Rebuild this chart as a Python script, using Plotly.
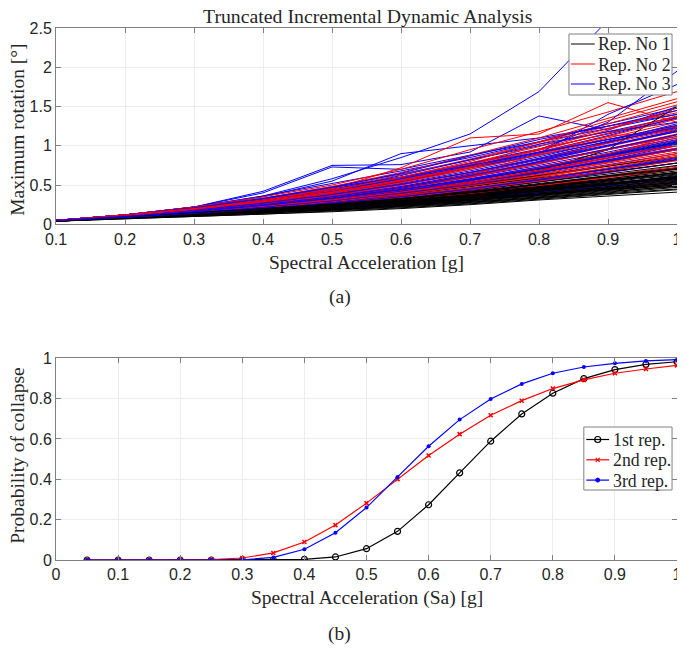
import plotly.graph_objects as go

# ---------------- data ----------------
sa_ida = [0.1, 0.2, 0.3, 0.4, 0.5, 0.6, 0.7, 0.8, 0.9, 1.0]

# maximum rotation [deg] x100, one list per record
rep1_curves = [
    [4, 7, 10, 13, 16, 20, 25, 31, 36, 41],
    [4, 7, 10, 13, 17, 21, 26, 32, 38, 44],
    [4, 8, 11, 14, 18, 22, 27, 33, 39, 45],
    [4, 8, 11, 15, 18, 23, 28, 34, 40, 47],
    [4, 8, 11, 15, 19, 24, 29, 35, 42, 48],
    [5, 8, 12, 15, 19, 24, 30, 36, 43, 50],
    [5, 8, 12, 16, 20, 25, 31, 37, 44, 52],
    [5, 8, 12, 16, 20, 26, 32, 38, 46, 53],
    [5, 9, 12, 16, 21, 26, 33, 40, 47, 55],
    [5, 9, 13, 17, 21, 27, 33, 41, 48, 56],
    [5, 9, 13, 17, 22, 28, 34, 42, 50, 58],
    [5, 9, 13, 17, 22, 28, 35, 43, 51, 60],
    [5, 9, 13, 18, 23, 29, 36, 44, 52, 61],
    [5, 9, 13, 18, 23, 30, 37, 45, 54, 63],
    [5, 9, 14, 18, 24, 30, 38, 47, 55, 64],
    [5, 9, 14, 19, 24, 31, 39, 48, 57, 66],
    [5, 10, 14, 19, 25, 32, 40, 49, 58, 68],
    [5, 10, 14, 19, 25, 33, 41, 50, 60, 70],
    [5, 10, 15, 20, 26, 34, 42, 52, 62, 72],
    [5, 10, 15, 20, 27, 35, 44, 54, 64, 75],
    [5, 10, 15, 21, 28, 36, 46, 56, 67, 78],
    [5, 10, 15, 21, 29, 38, 48, 59, 70, 82],
    [5, 10, 16, 22, 30, 40, 50, 62, 74, 86],
    [5, 11, 16, 23, 31, 42, 53, 66, 80, 95],
    [5, 11, 17, 24, 33, 44, 56, 70, 88, 105],
    [5, 10, 15, 22, 30, 40, 52, 68, 95, 150],
    [4, 8, 12, 16, 21, 27, 33, 39, 46, 53],
    [5, 9, 13, 17, 22, 27, 32, 38, 44, 50],
    [5, 9, 14, 19, 25, 31, 38, 45, 52, 59],
    [5, 10, 14, 20, 26, 32, 39, 47, 56, 66],
    [4, 8, 11, 15, 19, 24, 30, 37, 45, 54],
    [5, 9, 13, 18, 24, 31, 38, 46, 53, 60],
    [4, 8, 11, 15, 19, 23, 28, 34, 41, 49],
    [5, 9, 13, 17, 22, 27, 33, 40, 48, 57],
    [5, 9, 13, 18, 23, 29, 35, 42, 50, 59],
    [5, 9, 14, 18, 24, 30, 37, 44, 51, 58],
    [4, 8, 12, 16, 20, 25, 31, 38, 45, 51],
    [5, 10, 14, 19, 25, 32, 40, 48, 56, 65],
    [5, 9, 14, 19, 24, 30, 36, 43, 51, 62],
    [5, 10, 15, 20, 26, 33, 41, 51, 61, 71],
]
rep2_curves = [
    [4, 8, 12, 16, 20, 26, 32, 39, 46, 55],
    [4, 8, 12, 16, 21, 27, 34, 42, 50, 60],
    [5, 9, 13, 17, 22, 29, 37, 46, 55, 66],
    [5, 9, 13, 18, 23, 30, 38, 48, 58, 70],
    [5, 9, 14, 19, 25, 32, 41, 51, 62, 74],
    [5, 9, 14, 19, 26, 34, 43, 54, 66, 78],
    [5, 10, 15, 20, 27, 35, 45, 57, 70, 83],
    [5, 10, 15, 21, 28, 37, 48, 60, 74, 88],
    [5, 10, 15, 22, 29, 39, 50, 63, 78, 92],
    [5, 10, 16, 22, 30, 40, 52, 66, 82, 97],
    [5, 10, 16, 23, 31, 42, 55, 70, 86, 102],
    [5, 11, 16, 24, 33, 44, 58, 73, 90, 107],
    [5, 11, 17, 25, 34, 46, 60, 77, 95, 112],
    [5, 11, 17, 26, 36, 48, 63, 80, 99, 118],
    [5, 11, 18, 27, 38, 51, 66, 84, 104, 124],
    [5, 11, 18, 28, 40, 54, 70, 89, 110, 130],
    [5, 12, 19, 29, 42, 57, 74, 94, 116, 138],
    [5, 12, 20, 30, 44, 60, 78, 99, 122, 145],
    [5, 12, 20, 31, 46, 63, 83, 104, 128, 152],
    [5, 12, 21, 33, 48, 66, 88, 110, 135, 160],
    [5, 12, 22, 35, 50, 70, 95, 118, 143, 169],
    [5, 12, 21, 32, 45, 72, 110, 115, 155, 130],
    [5, 11, 19, 28, 40, 55, 75, 102, 125, 142],
    [5, 10, 16, 24, 33, 45, 60, 80, 105, 125],
    [5, 10, 15, 21, 29, 38, 50, 66, 88, 115],
    [5, 11, 17, 25, 35, 47, 62, 78, 96, 115],
    [5, 10, 16, 23, 31, 41, 54, 69, 85, 100],
    [5, 9, 14, 20, 27, 36, 46, 58, 72, 86],
    [5, 10, 15, 21, 29, 38, 49, 61, 75, 90],
    [4, 9, 13, 18, 24, 31, 39, 49, 60, 72],
    [5, 11, 18, 27, 39, 53, 70, 88, 108, 126],
    [5, 10, 17, 25, 35, 47, 62, 90, 112, 120],
    [5, 10, 16, 23, 32, 43, 56, 72, 90, 110],
    [5, 11, 17, 25, 35, 47, 61, 77, 95, 114],
    [5, 10, 15, 22, 30, 40, 53, 68, 84, 101],
    [5, 11, 18, 26, 37, 50, 65, 83, 103, 121],
    [5, 9, 14, 19, 26, 34, 44, 55, 68, 81],
    [5, 11, 18, 28, 40, 55, 72, 92, 112, 134],
    [5, 10, 16, 23, 31, 41, 52, 64, 79, 95],
    [5, 12, 20, 31, 44, 59, 76, 95, 116, 137],
    [5, 11, 19, 29, 41, 56, 73, 96, 120, 148],
    [5, 12, 20, 30, 43, 60, 80, 105, 132, 156],
]
rep3_curves = [
    [5, 11, 18, 26, 36, 48, 62, 78, 95, 112],
    [5, 11, 17, 24, 33, 44, 57, 72, 88, 104],
    [5, 10, 16, 23, 31, 41, 53, 67, 82, 97],
    [5, 10, 15, 21, 29, 38, 49, 62, 76, 90],
    [5, 10, 15, 20, 27, 36, 46, 58, 71, 85],
    [5, 10, 14, 19, 25, 33, 43, 54, 66, 78],
    [5, 9, 14, 19, 24, 31, 40, 50, 61, 72],
    [5, 9, 13, 18, 23, 29, 37, 46, 56, 66],
    [5, 9, 13, 17, 22, 28, 35, 43, 52, 61],
    [5, 9, 13, 17, 21, 27, 33, 41, 49, 57],
    [5, 10, 16, 24, 34, 46, 60, 75, 92, 110],
    [5, 11, 18, 27, 38, 52, 68, 86, 106, 128],
    [5, 11, 19, 29, 41, 56, 73, 92, 113, 136],
    [5, 12, 20, 31, 45, 60, 78, 96, 115, 135],
    [5, 12, 21, 33, 48, 64, 82, 100, 118, 137],
    [5, 12, 22, 36, 52, 68, 85, 105, 122, 140],
    [5, 12, 22, 42, 75, 76, 92, 138, 120, 150],
    [5, 12, 22, 40, 73, 70, 88, 105, 128, 148],
    [5, 12, 21, 35, 55, 90, 100, 110, 125, 140],
    [5, 12, 22, 36, 58, 85, 115, 169, 260, 320],
    [5, 11, 19, 29, 42, 58, 77, 95, 130, 195],
    [5, 11, 18, 27, 39, 54, 72, 90, 140, 178],
    [5, 11, 17, 26, 37, 50, 66, 84, 104, 125],
    [5, 10, 16, 24, 34, 46, 61, 80, 100, 120],
    [5, 10, 15, 22, 31, 42, 55, 72, 90, 108],
    [5, 10, 14, 20, 28, 38, 50, 65, 82, 100],
    [5, 10, 15, 21, 30, 40, 53, 68, 84, 102],
    [5, 11, 17, 25, 35, 48, 64, 82, 100, 118],
    [5, 11, 18, 28, 40, 55, 72, 88, 105, 122],
    [5, 10, 16, 23, 32, 44, 58, 73, 89, 106],
    [5, 10, 15, 22, 30, 40, 52, 66, 80, 95],
    [5, 9, 14, 19, 26, 34, 44, 56, 68, 82],
    [5, 11, 19, 30, 44, 62, 82, 102, 118, 130],
    [5, 11, 20, 32, 47, 65, 87, 108, 125, 145],
    [5, 10, 15, 22, 31, 42, 56, 71, 87, 104],
    [5, 11, 17, 25, 35, 47, 62, 79, 96, 114],
    [5, 10, 16, 22, 30, 40, 52, 66, 81, 96],
    [5, 11, 18, 27, 38, 51, 66, 83, 101, 119],
    [5, 9, 14, 20, 27, 35, 45, 57, 70, 84],
    [5, 11, 19, 30, 43, 58, 74, 91, 108, 126],
    [5, 12, 21, 33, 47, 60, 75, 92, 108, 123],
    [5, 10, 16, 24, 33, 44, 57, 71, 87, 103],
]

sa_frag = [0.05, 0.10, 0.15, 0.20, 0.25, 0.30, 0.35, 0.40, 0.45, 0.50,
           0.55, 0.60, 0.65, 0.70, 0.75, 0.80, 0.85, 0.90, 0.95, 1.00]
p_rep1 = [0, 0, 0, 0, 0, 0, 0.0, 0.003, 0.015, 0.056,
          0.142, 0.274, 0.432, 0.589, 0.724, 0.827, 0.899, 0.944, 0.970, 0.983]
p_rep2 = [0, 0, 0, 0, 0.002, 0.010, 0.035, 0.089, 0.173, 0.282,
          0.401, 0.518, 0.624, 0.718, 0.790, 0.850, 0.893, 0.926, 0.947, 0.965]
p_rep3 = [0, 0, 0, 0, 0, 0.001, 0.013, 0.053, 0.135, 0.260,
          0.412, 0.564, 0.696, 0.798, 0.873, 0.926, 0.957, 0.975, 0.987, 0.993]

ida_names = ["Rep. No 1", "Rep. No 2", "Rep. No 3"]
frag_names = ["1st rep.", "2nd rep.", "3rd rep."]

# ---------------- styling ----------------
OFF = 8                       # page body margin
W, H = 685 - OFF, 648 - OFF
# plot-area edges in window pixels
L, R, T, B = 55.5, 682, 28, 560
SERIF = "Liberation Serif, Times New Roman, serif"
SANS = "Liberation Sans, Arial, sans-serif"
TXT = "#262626"
COLORS = ["#000000", "#ff0000", "#0000ff"]


def px(x):
    return (x - L) / (R - L)


def py(y):
    return (B - y) / (B - T)


fig = go.Figure()

groups = [rep1_curves, rep2_curves, rep3_curves]
n_max = max(len(g) for g in groups)
for i in range(n_max):
    for g, name, col in zip(groups, ida_names, COLORS):
        if i < len(g):
            fig.add_trace(go.Scatter(
                x=sa_ida, y=[v / 100 for v in g[i]], mode="lines",
                line=dict(color=col, width=1), name=name, showlegend=False,
                xaxis="x", yaxis="y", hoverinfo="skip"))

marker_specs = [
    dict(symbol="circle-open", size=6, color="#000000", line=dict(width=1.2, color="#000000")),
    dict(symbol="x-thin-open", size=4, color="#ff0000", line=dict(width=1.5, color="#ff0000")),
    dict(symbol="circle", size=4, color="#0000ff"),
]
for p, name, col, mk in zip([p_rep1, p_rep2, p_rep3], frag_names, COLORS, marker_specs):
    fig.add_trace(go.Scatter(
        x=sa_frag, y=p, mode="lines+markers", line=dict(color=col, width=1.2),
        marker=mk, name=name, showlegend=False, xaxis="x2", yaxis="y2"))

axis_common = dict(
    showline=True, linecolor="#808080", linewidth=1, mirror="ticks",
    ticks="inside", ticklen=5, tickcolor="#808080",
    showgrid=True, gridcolor="#ececec", gridwidth=1, zeroline=False,
    tickfont=dict(family=SANS, size=16, color=TXT), ticklabeloverflow="allow",
)

dom_top = [py(224.3), 1.0]
dom_bot = [0.0, py(358.3)]

fig.update_layout(
    width=W, height=H,
    margin=dict(l=L - OFF, r=W - (R - OFF), t=T - OFF, b=H - (B - OFF), pad=0),
    paper_bgcolor="white", plot_bgcolor="white",
    xaxis=dict(range=[0.1, 1.0], tickvals=[0.1, 0.2, 0.3, 0.4, 0.5, 0.6, 0.7, 0.8, 0.9, 1.0],
               ticktext=["0.1", "0.2", "0.3", "0.4", "0.5", "0.6", "0.7", "0.8", "0.9", "1"],
               anchor="y", domain=[0, 1], **axis_common),
    yaxis=dict(range=[0, 2.5], tickvals=[0, 0.5, 1, 1.5, 2, 2.5],
               ticktext=["0", "0.5", "1", "1.5", "2", "2.5"],
               anchor="x", domain=dom_top, **axis_common),
    xaxis2=dict(range=[0, 1.0], tickvals=[0, 0.1, 0.2, 0.3, 0.4, 0.5, 0.6, 0.7, 0.8, 0.9, 1.0],
                ticktext=["0", "0.1", "0.2", "0.3", "0.4", "0.5", "0.6", "0.7", "0.8", "0.9", "1"],
                anchor="y2", domain=[0, 1], **axis_common),
    yaxis2=dict(range=[0, 1.0], tickvals=[0, 0.2, 0.4, 0.6, 0.8, 1.0],
                ticktext=["0", "0.2", "0.4", "0.6", "0.8", "1"],
                anchor="x2", domain=dom_bot, **axis_common),
    showlegend=False,
)


def ann(text, x, y, size=19.5, angle=0, xanchor="center"):
    fig.add_annotation(text=text, x=px(x), y=py(y), xref="paper", yref="paper",
                       showarrow=False, textangle=angle, xanchor=xanchor, yanchor="middle",
                       font=dict(family=SERIF, size=size, color=TXT))


ann("Truncated Incremental Dynamic Analysis", 370, 16, size=19.8)
ann("Spectral Acceleration [g]", 369, 263)
ann("Maximum rotation [°]", 17, 130, angle=-90)
ann("(a)", 342, 297)
ann("Spectral Acceleration (Sa) [g]", 369, 598)
ann("Probability of collapse", 17, 455, angle=-90)
ann("(b)", 342, 634)


def rect(x0, y0, x1, y1):
    fig.add_shape(type="rect", xref="paper", yref="paper",
                  x0=px(x0), x1=px(x1), y0=py(y1), y1=py(y0),
                  fillcolor="white", line=dict(color="#808080", width=1), layer="above")


def hline(x0, x1, y, col, width=1):
    fig.add_shape(type="line", xref="paper", yref="paper",
                  x0=px(x0), x1=px(x1), y0=py(y), y1=py(y),
                  line=dict(color=col, width=width), layer="above")


LEG_FS = 17.8

# legend (a)
rect(573, 34, 677, 95)
for k, (name, col) in enumerate(zip(ida_names, COLORS)):
    yy = 44 + 20 * k
    hline(575, 599, yy, col)
    ann(name, 600, yy + 0.5, size=LEG_FS, xanchor="left")

# legend (b)
rect(588, 427, 677, 490)
for k, (name, col) in enumerate(zip(frag_names, COLORS)):
    yy = 439.5 + 20.3 * k
    hline(590.5, 613.5, yy, col, 1.2)
    cx, cy = 602, yy
    if k == 0:
        fig.add_shape(type="circle", xref="paper", yref="paper", xsizemode="pixel", ysizemode="pixel",
                      xanchor=px(cx), yanchor=py(cy), x0=-3, x1=3, y0=-3, y1=3,
                      line=dict(color=col, width=1.2), fillcolor="rgba(0,0,0,0)", layer="above")
    elif k == 1:
        for s in (1, -1):
            fig.add_shape(type="line", xref="paper", yref="paper", xsizemode="pixel", ysizemode="pixel",
                          xanchor=px(cx), yanchor=py(cy), x0=-2, x1=2, y0=-2 * s, y1=2 * s,
                          line=dict(color=col, width=1.2), layer="above")
    else:
        fig.add_shape(type="circle", xref="paper", yref="paper", xsizemode="pixel", ysizemode="pixel",
                      xanchor=px(cx), yanchor=py(cy), x0=-2, x1=2, y0=-2, y1=2,
                      line=dict(color=col, width=1), fillcolor=col, layer="above")
    ann(name, 615, yy + 0.5, size=LEG_FS, xanchor="left")

fig.write_html("out.html")
